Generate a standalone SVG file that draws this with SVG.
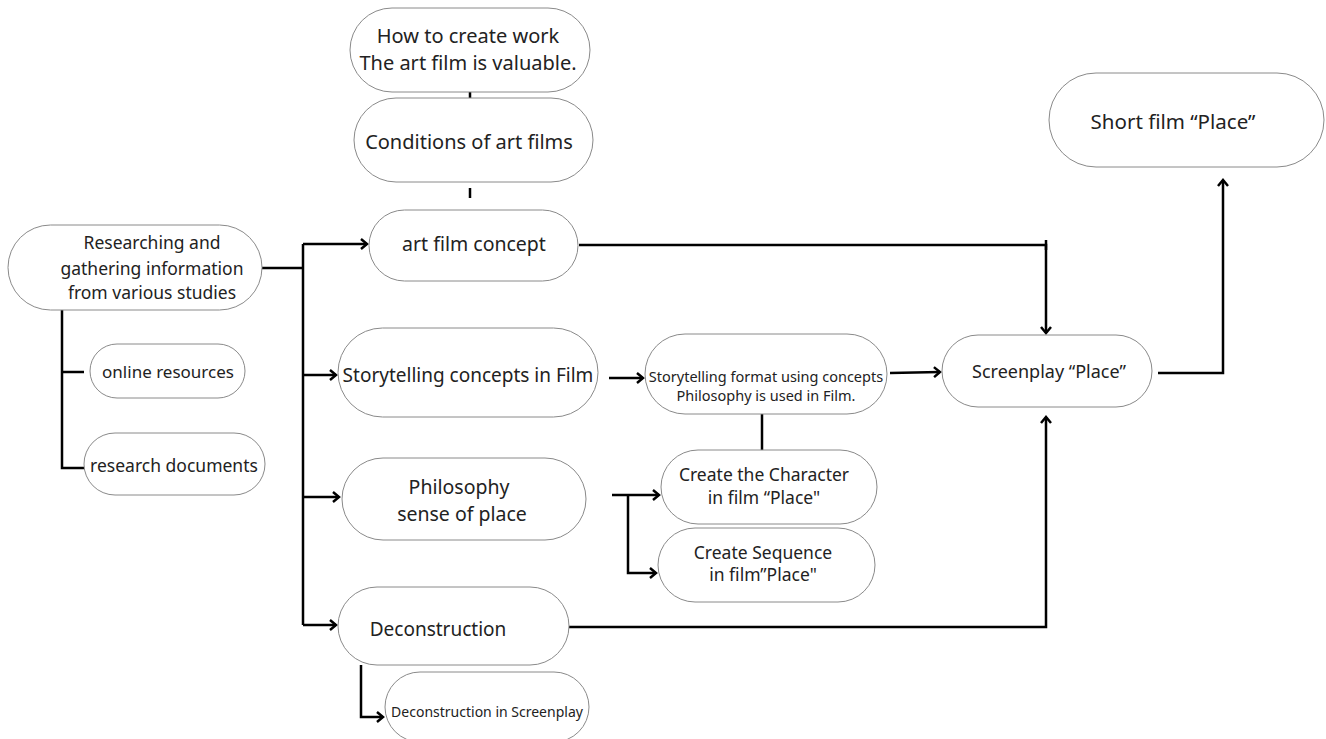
<svg xmlns="http://www.w3.org/2000/svg" width="1326" height="739" viewBox="0 0 1326 739">
<defs>
<marker id="arr" markerUnits="userSpaceOnUse" markerWidth="14" markerHeight="14" refX="9" refY="7" orient="auto">
<path d="M3,2 L9,7 L3,12" fill="none" stroke="#000" stroke-width="2.5"/>
</marker>
<style>
.n{fill:#fff;stroke:#8a8a8a;stroke-width:1}
.t{font-family:"Noto Sans","Open Sans",sans-serif;fill:#222;text-anchor:middle}
.c{fill:none;stroke:#000;stroke-width:2.5}
</style>
</defs>
<rect width="1326" height="739" fill="#fff"/>
<g id="connectors">
<path class="c" d="M470,90 V100"/>
<path class="c" d="M470,188 V198"/>
<path class="c" d="M262,268 H303"/>
<path class="c" d="M303,244 V625"/>
<path class="c" d="M303,244 H367" marker-end="url(#arr)"/>
<path class="c" d="M303,375 H336" marker-end="url(#arr)"/>
<path class="c" d="M303,497 H339" marker-end="url(#arr)"/>
<path class="c" d="M303,625 H336" marker-end="url(#arr)"/>
<path class="c" d="M62,308 V468 H84"/>
<path class="c" d="M62,372 H84"/>
<path class="c" d="M361,665 V717 H383" marker-end="url(#arr)"/>
<path class="c" d="M609,378 H643" marker-end="url(#arr)"/>
<path class="c" d="M890,373 L940,372" marker-end="url(#arr)"/>
<path class="c" d="M762,414 V450"/>
<path class="c" d="M612,495 H659" marker-end="url(#arr)"/>
<path class="c" d="M628,495 V573 H656" marker-end="url(#arr)"/>
<path class="c" d="M579,245 H1046 V333" marker-end="url(#arr)"/>
<path class="c" d="M1046,240 V250"/>
<path class="c" d="M569,627 H1046 V417" marker-end="url(#arr)"/>
<path class="c" d="M1158,373 H1223 V180" marker-end="url(#arr)"/>
</g>
<g id="n-howto"><rect class="n" x="350" y="8" width="240" height="84" rx="42"/>
<text class="t" x="468" y="43" font-size="20">How to create work</text>
<text class="t" x="468" y="70" font-size="20">The art film is valuable.</text></g>
<g id="n-conditions"><rect class="n" x="354" y="98" width="239" height="84" rx="42"/>
<text class="t" x="469" y="149" font-size="20">Conditions of art films</text></g>
<g id="n-artfilm"><rect class="n" x="369" y="210" width="209" height="71" rx="35.5"/>
<text class="t" x="474" y="251" font-size="19.5">art film concept</text></g>
<g id="n-research"><rect class="n" x="8" y="225" width="254" height="85" rx="42.5"/>
<text class="t" x="152" y="249" font-size="17.5">Researching and</text>
<text class="t" x="152" y="275" font-size="17.5">gathering information</text>
<text class="t" x="152" y="299" font-size="17.5">from various studies</text></g>
<g id="n-online"><rect class="n" x="90" y="344" width="155" height="54" rx="27"/>
<text class="t" x="168" y="378" font-size="17">online resources</text></g>
<g id="n-docs"><rect class="n" x="84" y="433" width="181" height="62" rx="31"/>
<text class="t" x="174" y="472" font-size="17.5">research documents</text></g>
<g id="n-story"><rect class="n" x="338" y="328" width="260" height="89" rx="44.5"/>
<text class="t" x="468" y="382" font-size="19">Storytelling concepts in Film</text></g>
<g id="n-philo"><rect class="n" x="342" y="458" width="244" height="82" rx="41"/>
<text class="t" x="459" y="494" font-size="19.5">Philosophy</text>
<text class="t" x="462" y="521" font-size="19.5">sense of place</text></g>
<g id="n-decon"><rect class="n" x="338" y="587" width="231" height="78" rx="39"/>
<text class="t" x="438" y="636" font-size="19">Deconstruction</text></g>
<g id="n-deconsp"><rect class="n" x="385" y="672" width="204" height="70" rx="35"/>
<text class="t" x="487" y="717" font-size="14">Deconstruction in Screenplay</text></g>
<g id="n-format"><rect class="n" x="645" y="334" width="242" height="80" rx="40"/>
<text class="t" x="766" y="382" font-size="14.5">Storytelling format using concepts</text>
<text class="t" x="766" y="401" font-size="14.5">Philosophy is used in Film.</text></g>
<g id="n-character"><rect class="n" x="661" y="450" width="216" height="74" rx="37"/>
<text class="t" x="764" y="481" font-size="17.5">Create the Character</text>
<text class="t" x="764" y="504" font-size="17.5">in film “Place"</text></g>
<g id="n-sequence"><rect class="n" x="658" y="528" width="217" height="74" rx="37"/>
<text class="t" x="763" y="559" font-size="17.5">Create Sequence</text>
<text class="t" x="763" y="581" font-size="17.5">in film”Place"</text></g>
<g id="n-screenplay"><rect class="n" x="942" y="335" width="210" height="72" rx="36"/>
<text class="t" x="1049" y="378" font-size="18">Screenplay “Place”</text></g>
<g id="n-short"><rect class="n" x="1049" y="73" width="275" height="94" rx="47"/>
<text class="t" x="1173" y="129" font-size="20.5">Short film “Place”</text></g>
</svg>
